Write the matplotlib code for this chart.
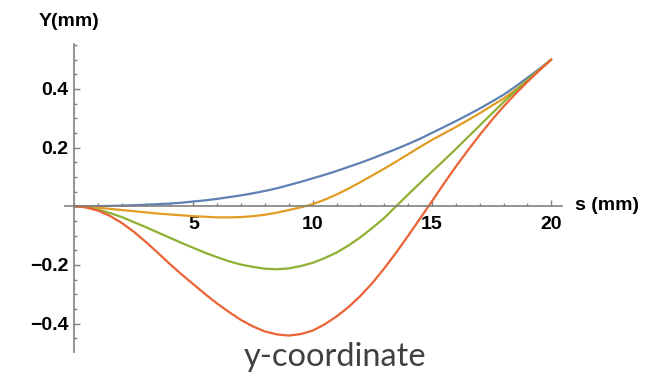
import matplotlib
matplotlib.use("Agg")
import matplotlib.pyplot as plt
from matplotlib.ticker import FixedLocator, MultipleLocator

# values (s in mm, Y in mm), every 0.5 mm
s = [0, 0.5, 1, 1.5, 2, 2.5, 3, 3.5, 4, 4.5, 5, 5.5, 6, 6.5, 7, 7.5, 8, 8.5, 9, 9.5, 10,
     10.5, 11, 11.5, 12, 12.5, 13, 13.5, 14, 14.5, 15, 15.5, 16, 16.5, 17, 17.5, 18, 18.5,
     19, 19.5, 20]
y_blue = [0, 0.0001, 0.0005, 0.001, 0.002, 0.0035, 0.005, 0.007, 0.009, 0.012, 0.016, 0.02,
          0.025, 0.031, 0.037, 0.044, 0.052, 0.061, 0.072, 0.083, 0.095, 0.107, 0.12, 0.134,
          0.148, 0.163, 0.179, 0.195, 0.212, 0.23, 0.25, 0.27, 0.29, 0.311, 0.333, 0.356,
          0.38, 0.408, 0.438, 0.468, 0.5]
y_orange = [0, -0.001, -0.005, -0.009, -0.013, -0.017, -0.021, -0.025, -0.028, -0.031,
            -0.034, -0.036, -0.038, -0.038, -0.037, -0.034, -0.029, -0.022, -0.013, -0.004,
            0.007, 0.022, 0.04, 0.06, 0.082, 0.105, 0.128, 0.152, 0.177, 0.202, 0.226, 0.248,
            0.27, 0.293, 0.317, 0.342, 0.367, 0.397, 0.43, 0.464, 0.5]
y_green = [0, -0.003, -0.012, -0.023, -0.037, -0.054, -0.071, -0.089, -0.107, -0.125, -0.142,
           -0.159, -0.174, -0.188, -0.199, -0.207, -0.213, -0.215, -0.212, -0.204, -0.193,
           -0.177, -0.158, -0.134, -0.106, -0.074, -0.04, 0.0, 0.04, 0.079, 0.118, 0.156,
           0.195, 0.235, 0.275, 0.315, 0.355, 0.393, 0.43, 0.465, 0.5]
y_red = [0, -0.004, -0.015, -0.033, -0.057, -0.087, -0.121, -0.158, -0.196, -0.232, -0.266,
         -0.3, -0.332, -0.361, -0.388, -0.41, -0.427, -0.437, -0.441, -0.436, -0.424, -0.403,
         -0.376, -0.344, -0.306, -0.262, -0.212, -0.158, -0.101, -0.042, 0.017, 0.077, 0.135,
         0.19, 0.243, 0.293, 0.34, 0.383, 0.424, 0.463, 0.5]

xticks = [5, 10, 15, 20]
xtick_labels = ["5", "10", "15", "20"]
yticks = [-0.4, -0.2, 0.2, 0.4]
ytick_labels = ["\u22120.4", "\u22120.2", "0.2", "0.4"]

colors = ["#5E81B5", "#E19C24", "#8FB032", "#EB6235"]

fig = plt.figure(figsize=(6.64, 3.75), dpi=100)
ax = fig.add_axes([65 / 664, 23 / 375, 497 / 664, 308 / 375])

for yy, c in zip([y_blue, y_orange, y_green, y_red], colors):
    ax.plot(s, yy, color=c, lw=1.6, solid_capstyle="round", solid_joinstyle="round")

ax.set_xlim(-0.38, 20.45)
ax.set_ylim(-0.497, 0.553)

for side in ["top", "right"]:
    ax.spines[side].set_visible(False)
ax.spines["left"].set_position(("data", 0))
ax.spines["bottom"].set_position(("data", 0))
for side in ["left", "bottom"]:
    ax.spines[side].set_color("#808080")
    ax.spines[side].set_linewidth(1.2)

ax.xaxis.set_major_locator(FixedLocator(xticks))
ax.xaxis.set_minor_locator(MultipleLocator(1))
ax.set_xticklabels(xtick_labels)
ax.yaxis.set_major_locator(FixedLocator(yticks))
ax.yaxis.set_minor_locator(MultipleLocator(0.05))
ax.set_yticklabels(ytick_labels)

ax.tick_params(which="both", direction="in", color="#808080", width=1)
ax.tick_params(which="major", length=4)
ax.tick_params(which="minor", length=2.2)
ax.tick_params(axis="x", which="major", pad=7)
ax.tick_params(axis="y", which="major", pad=4)

for lab in ax.get_xticklabels() + ax.get_yticklabels():
    lab.set_fontfamily("Liberation Sans")
    lab.set_fontweight("bold")
    lab.set_fontsize(14)

fig.text(39 / 664, 1 - 21 / 375, "Y(mm)", family="Liberation Sans", weight="bold",
         fontsize=14, ha="left", va="center")
fig.text(575 / 664, 1 - 205 / 375, "s (mm)", family="Liberation Sans", weight="bold",
         fontsize=14, ha="left", va="center")
fig.text(335 / 664, 8.5 / 375, "y-coordinate", family="Lato", fontsize=23.5,
         color="#404040", ha="center", va="baseline")

fig.savefig("out.png", dpi=100)
